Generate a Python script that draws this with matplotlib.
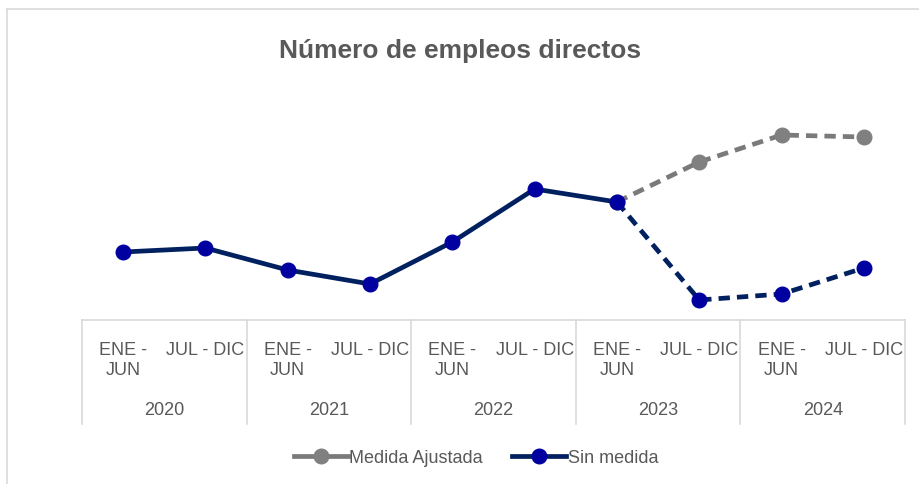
import matplotlib
matplotlib.use('Agg')
import matplotlib.pyplot as plt
from matplotlib.lines import Line2D
from matplotlib.transforms import blended_transform_factory

# Data (arbitrary units: no value axis shown)
years = ['2020', '2021', '2022', '2023', '2024']
periods = ['ENE -\nJUN', 'JUL - DIC'] * 5
sin_medida = [77, 81, 59, 45, 87, 140, 127, 29, 35, 61]
medida_ajustada = [127, 167, 194, 192]   # from 2023 ENE-JUN onward
split_idx = 6                            # projections start here

NAVY = '#002060'
BLUE = '#0000A0'
GRAY = '#808080'
GRAY_LINE = '#7a7a7a'
TEXT = '#595959'
GRID = '#d9d9d9'
FONT = ['Liberation Sans Narrow', 'Liberation Sans', 'DejaVu Sans']

plt.rcParams['font.family'] = FONT

W, H = 920, 485
fig = plt.figure(figsize=(W / 100, H / 100), dpi=100)
fig.patch.set_facecolor('white')


def fy(pix):
    return 1 - pix / H


ax = fig.add_axes([82 / W, fy(321), (905 - 82) / W, (321 - 100) / H])
ax.axis('off')

x = list(range(len(sin_medida)))
xa = x[split_idx:]

lw = 3.4
ms = 10.5
dash = (2.4, 1.5)

# Medida ajustada (dashed gray)
ax.plot(xa, medida_ajustada, color=GRAY_LINE, lw=lw, dashes=dash,
        marker='o', ms=ms, mfc=GRAY, mec=GRAY, zorder=2)
# Sin medida: solid history + dashed projection
ax.plot(x[:split_idx + 1], sin_medida[:split_idx + 1], color=NAVY, lw=lw,
        solid_capstyle='round', zorder=3)
ax.plot(x[split_idx:], sin_medida[split_idx:], color=NAVY, lw=lw,
        dashes=dash, zorder=3)
ax.plot(x, sin_medida, ls='none', marker='o', ms=ms, mfc=BLUE, mec=BLUE,
        zorder=4)

ax.set_xlim(-0.5, len(x) - 0.5)
ax.set_ylim(9, 230)

# Two-level category axis
tr = blended_transform_factory(ax.transData, fig.transFigure)
ax.add_artist(Line2D([-0.5, len(x) - 0.5], [fy(321), fy(321)], transform=tr,
                     color=GRID, lw=1.2, clip_on=False))
for b in range(0, len(x) + 1, 2):
    ax.add_artist(Line2D([b - 0.5, b - 0.5], [fy(321), fy(425)], transform=tr,
                         color=GRID, lw=1.2, clip_on=False))
for i, lab in enumerate(periods):
    fig.text(i, fy(342), lab, transform=tr, ha='center', va='top',
             fontsize=13, color=TEXT, linespacing=1.25)
for j, yr in enumerate(years):
    fig.text(2 * j + 0.5, fy(411), yr, transform=tr, ha='center',
             va='center', fontsize=13, color=TEXT)

# Title
fig.text(0.5, fy(51), 'Número de empleos directos', ha='center', va='center',
         fontsize=19, fontweight='bold', color=TEXT)

# Outer chart border (left and top)
fig.add_artist(Line2D([7 / W, 7 / W], [0, fy(10)], color=GRID, lw=1.2))
fig.add_artist(Line2D([7 / W, 1], [fy(10), fy(10)], color=GRID, lw=1.2))

# Legend
handles = [
    Line2D([], [], color=GRAY_LINE, lw=lw, marker='o', ms=ms, mfc=GRAY, mec=GRAY),
    Line2D([], [], color=NAVY, lw=lw, marker='o', ms=ms, mfc=BLUE, mec=BLUE),
]
leg = fig.legend(handles, ['Medida Ajustada', 'Sin medida'], loc='center',
                 bbox_to_anchor=(476 / W, fy(459)), ncol=2, frameon=False,
                 fontsize=13, handlelength=3.0, handletextpad=0.1,
                 columnspacing=1.6)
for t in leg.get_texts():
    t.set_color(TEXT)

fig.savefig('out.png', dpi=100, facecolor='white')
